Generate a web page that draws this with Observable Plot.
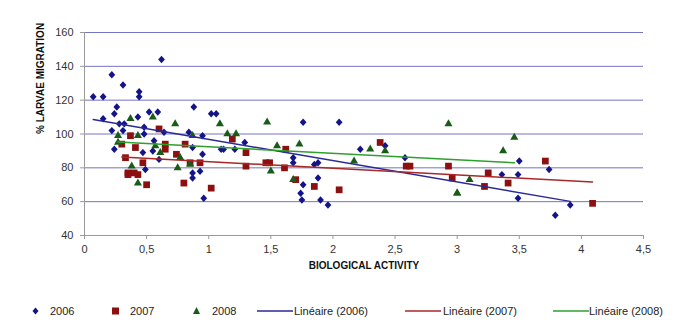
<!DOCTYPE html>
<html>
<head>
<meta charset="utf-8">
<script src="https://cdn.jsdelivr.net/npm/d3@7"></script>
<script src="https://cdn.jsdelivr.net/npm/@observablehq/plot@0.6"></script>
<style>
  html, body { margin: 0; padding: 0; background: #fff; }
  #wrap { width: 674px; height: 331px; position: relative; font-family: "Liberation Sans", Arial, sans-serif; }
  #legend { position: absolute; left: 0; top: 290px; width: 674px; height: 41px; font-size: 11px; color: #222; }
  .li { position: absolute; top: 14px; height: 14px; line-height: 14px; white-space: nowrap; }
</style>
</head>
<body>
<div id="wrap">
  <div id="chart"></div>
  <div id="legend"></div>
</div>
<script>
// ---- data ----
const x2006 = [0.07,0.15,0.22,0.31,0.44,0.44,0.62,0.26,0.88,0.24,0.52,0.59,0.43,0.15,0.28,0.32,0.22,0.31,0.48,0.48,0.64,0.84,0.95,0.56,0.24,0.47,0.55,0.87,0.60,0.95,0.49,0.87,0.87,0.93,0.96,1.02,1.06,1.76,2.05,1.29,1.10,1.12,1.21,1.68,1.68,1.85,1.88,1.88,1.76,1.74,1.75,1.90,1.96,2.22,2.42,2.58,3.50,3.74,3.36,3.49,3.49,3.91,3.79];
const y2006 = [122,122,135,129,125,122,144,116,116,112,113,113,110,109,106,106,102,102,104,100,101,101,99,96,91,89,90,92,85,88,79,77,74,78,62,112,112,107,107,95,91,91,91,86,83,82,83,74,70,65,61,61,58,91,93,86,84,79,76,76,62,58,52];

const x2007 = [0.30,0.37,0.41,0.60,0.65,0.65,0.81,0.33,0.47,0.74,0.85,0.93,0.35,0.40,0.35,0.43,0.50,0.80,1.19,1.30,1.46,1.49,1.30,1.62,1.61,1.02,1.70,1.85,2.05,2.38,2.59,2.62,2.93,2.96,3.25,3.41,3.22,3.71,4.09];
const y2007 = [94,99,92,103,94,91,94,86,83,88,83,83,77,77,76,76,70,71,97,89,83,83,81,91,80,68,73,69,67,95,81,81,81,74,77,71,69,84,59];

const x2008 = [0.37,0.55,0.73,0.27,0.43,0.87,0.27,0.57,0.61,0.77,0.85,0.38,0.75,0.43,1.09,1.47,1.15,1.22,1.55,1.73,1.50,1.68,2.17,2.30,2.42,2.93,3.00,3.46,3.37,3.10,3.00];
const y2008 = [109,110,106,99,99,99,95,93,89,86,82,81,80,71,106,107,100,100,93,94,78,73,84,91,90,106,65,98,90,73,65];

const xTicks = [0,0.5,1,1.5,2,2.5,3,3.5,4,4.5];
const yTicks = [40,60,80,100,120,140,160];
const xTitle = "BIOLOGICAL ACTIVITY";
const yTitle = "% LARVAE MIGRATION";
const seriesNames = ["2006","2007","2008"];
const trendNames = ["Linéaire (2006)","Linéaire (2007)","Linéaire (2008)"];

const C = {
  p2006: "#14148a", p2007: "#8c1010", p2008: "#185c18",
  l2006: "#2a2a96", l2007: "#a82828", l2008: "#2ea02e",
  grid: "#7474c4", axis: "#9a9a9a"
};

const d2006 = x2006.map((x,i)=>({x, y:y2006[i]}));
const d2007 = x2007.map((x,i)=>({x, y:y2007[i]}));
const d2008 = x2008.map((x,i)=>({x, y:y2008[i]}));

const comma = d => String(d).replace(".", ",");

// Excel-like diamond (almost as wide as tall)
const excelDiamond = {
  draw(ctx, size) {
    const s = Math.sqrt(size / 2);
    ctx.moveTo(0, -s * 1.1);
    ctx.lineTo(s, 0);
    ctx.lineTo(0, s * 1.1);
    ctx.lineTo(-s, 0);
    ctx.closePath();
  }
};

const chart = Plot.plot({
  width: 674,
  height: 290,
  marginLeft: 84,
  marginRight: 31,
  marginTop: 32,
  marginBottom: 55,
  style: { fontFamily: "'Liberation Sans', Arial, sans-serif", fontSize: "11px", background: "white", color: "#222" },
  x: { domain: [0, 4.5] },
  y: { domain: [40, 160] },
  marks: [
    Plot.gridY(yTicks, { stroke: C.grid, strokeOpacity: 1, strokeWidth: 1 }),
    Plot.ruleX([0], { stroke: C.axis }),
    Plot.ruleY([40], { stroke: C.axis }),
    Plot.axisY({ ticks: yTicks, tickSize: 4, tickPadding: 7, label: null, stroke: C.axis, fill: "#333" }),
    Plot.axisX({ ticks: xTicks, tickSize: 4, tickPadding: 6, label: null, tickFormat: comma, stroke: C.axis, fill: "#333" }),
    Plot.dot(d2006, { x: "x", y: "y", symbol: excelDiamond, r: 2.7, fill: C.p2006, stroke: "none" }),
    Plot.dot(d2007, { x: "x", y: "y", symbol: "square", r: 3.8, fill: C.p2007, stroke: "none" }),
    Plot.dot(d2008, { x: "x", y: "y", symbol: "triangle", r: 3.0, fill: C.p2008, stroke: "none" }),
    Plot.linearRegressionY(d2006, { x: "x", y: "y", stroke: C.l2006, strokeWidth: 1.5, ci: 0 }),
    Plot.linearRegressionY(d2007, { x: "x", y: "y", stroke: C.l2007, strokeWidth: 1.5, ci: 0 }),
    Plot.linearRegressionY(d2008, { x: "x", y: "y", stroke: C.l2008, strokeWidth: 1.5, ci: 0 }),
    Plot.text([xTitle], { frameAnchor: "bottom", dy: 33, fontWeight: "bold", fontSize: 10, fill: "#111" }),
    Plot.text([yTitle], { frameAnchor: "left", dx: -44, rotate: -90, fontWeight: "bold", fontSize: 10, fill: "#111" })
  ]
});
document.getElementById("chart").appendChild(chart);

// ---- legend ----
const legend = document.getElementById("legend");
const items = [
  { kind: "diamond", color: C.p2006, name: seriesNames[0], mx: 31, tx: 50 },
  { kind: "square", color: C.p2007, name: seriesNames[1], mx: 111, tx: 130 },
  { kind: "triangle", color: C.p2008, name: seriesNames[2], mx: 192, tx: 212 },
  { kind: "line", color: C.l2006, name: trendNames[0], mx: 257, tx: 294 },
  { kind: "line", color: C.l2007, name: trendNames[1], mx: 405, tx: 443 },
  { kind: "line", color: C.l2008, name: trendNames[2], mx: 553, tx: 589 }
];
for (const it of items) {
  const m = document.createElementNS("http://www.w3.org/2000/svg", "svg");
  const w = it.kind === "line" ? 36 : 9;
  m.setAttribute("width", w); m.setAttribute("height", 14);
  m.style.position = "absolute"; m.style.left = it.mx + "px"; m.style.top = "14px";
  let s = "";
  if (it.kind === "diamond") s = `<path d="M4.5,3.5L7.5,7L4.5,10.5L1.5,7Z" fill="${it.color}"/>`;
  if (it.kind === "square") s = `<rect x="1" y="3.5" width="7" height="7" fill="${it.color}"/>`;
  if (it.kind === "triangle") s = `<path d="M4.5,3L8,10L1,10Z" fill="${it.color}"/>`;
  if (it.kind === "line") s = `<line x1="0" x2="36" y1="7" y2="7" stroke="${it.color}" stroke-width="1.6"/>`;
  m.innerHTML = s;
  legend.appendChild(m);
  const t = document.createElement("div");
  t.className = "li"; t.style.left = it.tx + "px"; t.textContent = it.name;
  legend.appendChild(t);
}
</script>
</body>
</html>
